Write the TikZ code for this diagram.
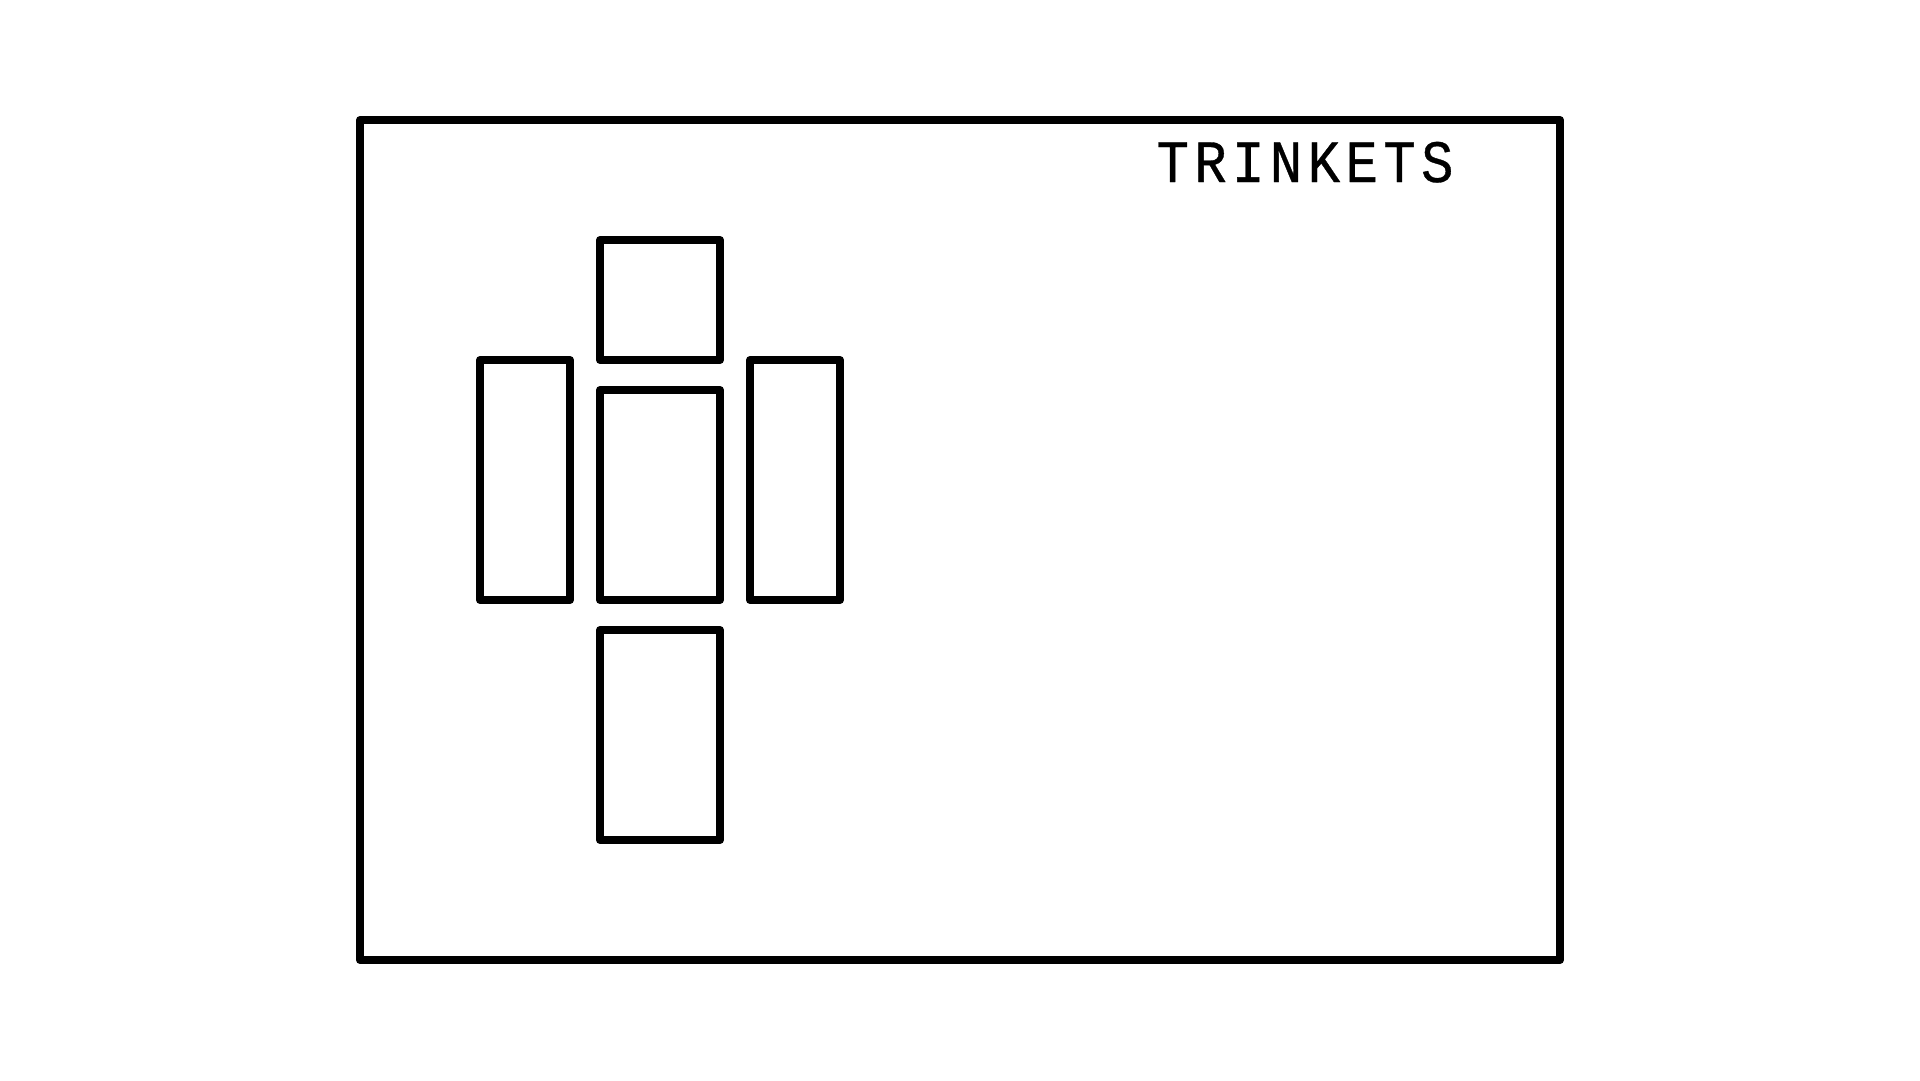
\documentclass[tikz,border=0pt]{standalone}
\usepackage{fontspec}
\newfontfamily\labelfont[FakeStretch=0.9,LetterSpace=9,FakeBold=0.6]{Liberation Mono}
\begin{document}
\begin{tikzpicture}[x=1pt,y=-1pt,
  panel/.style={draw=black,line width=8pt,line join=round,rectangle,inner sep=0pt,outer sep=0pt},
  title/.style={font=\labelfont\fontsize{60}{66}\selectfont,inner sep=0pt,anchor=base}]
\useasboundingbox[fill=white] (0,0) rectangle (1920,1080);
\node[panel,minimum width=1200pt,minimum height=840pt] (frame) at (960,540) {};
\node[title] (label) at (1305,182) {TRINKETS};
\node[panel,minimum width=120pt,minimum height=120pt] (top) at (660,300) {};
\node[panel,minimum width=90pt,minimum height=240pt] (left) at (525,480) {};
\node[panel,minimum width=120pt,minimum height=210pt] (center) at (660,495) {};
\node[panel,minimum width=90pt,minimum height=240pt] (right) at (795,480) {};
\node[panel,minimum width=120pt,minimum height=210pt] (bottom) at (660,735) {};
\end{tikzpicture}
\end{document}
